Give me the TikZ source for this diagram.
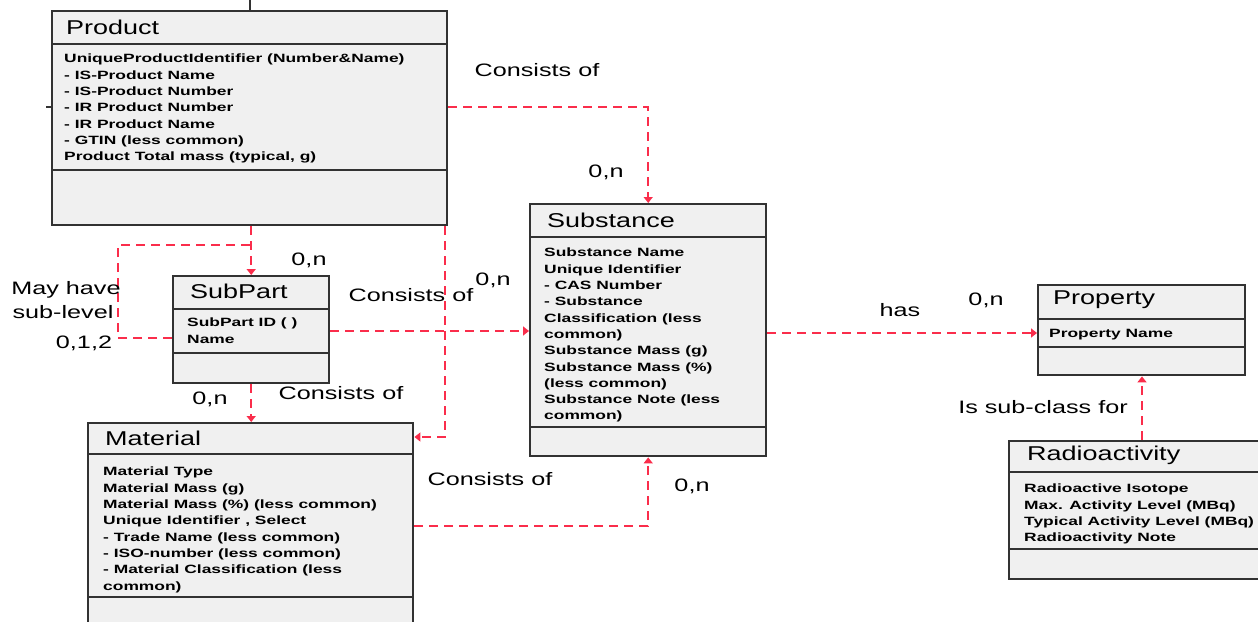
\documentclass[tikz,border=0pt]{standalone}
\usepackage{fontspec}
\setmainfont{Liberation Sans}
\newfontfamily\titlefont[FakeStretch=1.35]{Liberation Sans}
\newfontfamily\attrfont[FakeStretch=1.45]{Liberation Sans}
\newfontfamily\lblfont[FakeStretch=1.4]{Liberation Sans}
\usetikzlibrary{arrows.meta,calc}
\definecolor{conn}{RGB}{250,45,75}
\definecolor{boxfill}{RGB}{240,240,240}
\definecolor{boxline}{RGB}{50,50,50}
\begin{document}
\begin{tikzpicture}[x=1pt,y=-1pt,
 classbox/.style={draw=boxline, fill=boxfill, line width=2.4pt, inner sep=0pt, anchor=north west, rectangle},
 divider/.style={draw=boxline, line width=2pt},
 ctitle/.style={anchor=west, inner sep=0pt, font=\titlefont\fontsize{20}{24}\selectfont},
 cattr/.style={anchor=north west, inner sep=0pt, align=left, font=\attrfont\bfseries\fontsize{12}{16.3}\selectfont},
 rel/.style={draw=conn, line width=2.2pt, dash pattern=on 9pt off 6pt},
 relarrow/.style={rel, -{Triangle[width=9pt,length=6pt]}},
 lbl/.style={inner sep=0pt, font=\lblfont\fontsize{18}{21}\selectfont, align=center},
]
\useasboundingbox (0,0) rectangle (1258,621);
\clip (0,0) rectangle (1258,621);

% ---------- Product ----------
\node[classbox, minimum width=395pt, minimum height=214pt] (product) at (51,10) {};
\draw[divider] ([yshift=-34pt]product.north west) -- ([yshift=-34pt]product.north east);
\draw[divider] ([yshift=-160pt]product.north west) -- ([yshift=-160pt]product.north east);
\node[ctitle] (producttitle) at ([xshift=15pt,yshift=-17pt]product.north west) {Product};
\node[cattr] (productattr) at ([xshift=13pt,yshift=-44pt]product.north west)
 {UniqueProductIdentifier (Number\&Name)\\
  - IS-Product Name\\
  - IS-Product Number\\
  - IR Product Number\\
  - IR Product Name\\
  - GTIN (less common)\\
  Product Total mass (typical, g)};

% ---------- SubPart ----------
\node[classbox, minimum width=156pt, minimum height=107pt] (subpart) at (172,275) {};
\draw[divider] ([yshift=-34pt]subpart.north west) -- ([yshift=-34pt]subpart.north east);
\draw[divider] ([yshift=-78pt]subpart.north west) -- ([yshift=-78pt]subpart.north east);
\node[ctitle] (subparttitle) at ([xshift=18pt,yshift=-16pt]subpart.north west) {SubPart};
\node[cattr] (subpartattr) at ([xshift=15pt,yshift=-43pt]subpart.north west)
 {SubPart ID ( )\\ Name};

% ---------- Material ----------
\node[classbox, minimum width=325pt, minimum height=220pt] (material) at (87,422) {};
\draw[divider] ([yshift=-32pt]material.north west) -- ([yshift=-32pt]material.north east);
\draw[divider] ([yshift=-175pt]material.north west) -- ([yshift=-175pt]material.north east);
\node[ctitle] (materialtitle) at ([xshift=18pt,yshift=-16pt]material.north west) {Material};
\node[cattr] (materialattr) at ([xshift=16pt,yshift=-45pt]material.north west)
 {Material Type\\
  Material Mass (g)\\
  Material Mass (\%) (less common)\\
  Unique Identifier , Select\\
  - Trade Name (less common)\\
  - ISO-number (less common)\\
  - Material Classification (less\\
  common)};

% ---------- Substance ----------
\node[classbox, minimum width=236pt, minimum height=252pt] (substance) at (529,203) {};
\draw[divider] ([yshift=-34pt]substance.north west) -- ([yshift=-34pt]substance.north east);
\draw[divider] ([yshift=-224pt]substance.north west) -- ([yshift=-224pt]substance.north east);
\node[ctitle] (substancetitle) at ([xshift=18pt,yshift=-17pt]substance.north west) {Substance};
\node[cattr] (substanceattr) at ([xshift=15pt,yshift=-45pt]substance.north west)
 {Substance Name\\
  Unique Identifier\\
  - CAS Number\\
  - Substance\\
  Classification (less\\
  common)\\
  Substance Mass (g)\\
  Substance Mass (\%)\\
  (less common)\\
  Substance Note (less\\
  common)};

% ---------- Property ----------
\node[classbox, minimum width=207pt, minimum height=90pt] (property) at (1037,284) {};
\draw[divider] ([yshift=-35pt]property.north west) -- ([yshift=-35pt]property.north east);
\draw[divider] ([yshift=-63pt]property.north west) -- ([yshift=-63pt]property.north east);
\node[ctitle] (propertytitle) at ([xshift=16pt,yshift=-16pt]property.north west) {Property};
\node[cattr] (propertyattr) at ([xshift=12pt,yshift=-45pt]property.north west) {Property Name};

% ---------- Radioactivity ----------
\node[classbox, minimum width=262pt, minimum height=138pt] (radio) at (1008,440) {};
\draw[divider] ([yshift=-32pt]radio.north west) -- ([yshift=-32pt]radio.north east);
\draw[divider] ([yshift=-109pt]radio.north west) -- ([yshift=-109pt]radio.north east);
\node[ctitle] (radiotitle) at ([xshift=19pt,yshift=-15pt]radio.north west) {Radioactivity};
\node[cattr] (radioattr) at ([xshift=16pt,yshift=-44pt]radio.north west)
 {Radioactive Isotope\\
  Max. Activity Level (MBq)\\
  Typical Activity Level (MBq)\\
  Radioactivity Note};

% ---------- stubs ----------
\draw[boxline, line width=2pt] (product.north) -- ++(0,-10);
\coordinate (b1) at (646,107);
\draw[boxline, line width=2pt] (product.west |- b1) -- ++(-5,0);

% ---------- connectors ----------
\draw[relarrow] (product.east |- b1) -| (substance.north);
\coordinate (b2) at (250,245);
\draw[relarrow] (subpart.north |- product.south) -- (subpart.north);
\coordinate (b3) at (118,338);
\draw[rel] (subpart.west |- b3) -- (b3) |- (b2);
\coordinate (b4) at (0,331);
\draw[relarrow] (subpart.east |- b4) -- (substance.west |- b4);
\coordinate (b5) at (445,437);
\draw[relarrow] (product.south -| b5) -- (b5) -- (material.east |- b5);
\draw[relarrow] (subpart.south) -- (material.north -| subpart.south);
\coordinate (b6) at (646,526);
\draw[relarrow] (material.east |- b6) -| (substance.south);
\coordinate (b7) at (0,333);
\draw[relarrow] (substance.east |- b7) -- (property.west |- b7);
\coordinate (b8) at (1142,0);
\draw[relarrow] (radio.north -| b8) -- (property.south -| b8);

% ---------- labels ----------
\node[lbl] (l1) at (537,70) {Consists of};
\node[lbl] (n1) at (606,172) {0,n};
\node[lbl] (n2) at (309,260) {0,n};
\node[lbl] (may1) at (66,290) {May have};
\node[lbl] (may2) at (63,312) {sub-level};
\node[lbl] (n012) at (84,343) {0,1,2};
\node[lbl] (l2) at (411,295) {Consists of};
\node[lbl] (n3) at (493,280) {0,n};
\node[lbl] (l3) at (341,393) {Consists of};
\node[lbl] (n4) at (210,399) {0,n};
\node[lbl] (l4) at (490,479) {Consists of};
\node[lbl] (n5) at (692,486) {0,n};
\node[lbl] (has) at (900,310) {has};
\node[lbl] (n6) at (986,300) {0,n};
\node[lbl] (sub) at (1043,407) {Is sub-class for};
\end{tikzpicture}
\end{document}
